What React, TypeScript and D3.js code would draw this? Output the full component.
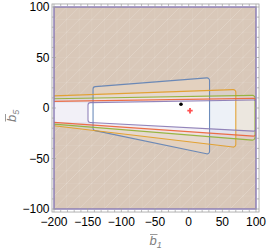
import React from 'react';
import * as d3 from 'd3';

const W = 268;
const H = 250;

// axis ticks
const xTicks = [-200, -150, -100, -50, 0, 50, 100];
const yTicks = [-100, -50, 0, 50, 100];
const xMinor = d3.range(-200, 101, 10);
const yMinor = d3.range(-100, 101, 10);

// allowed region of each constraint, [b1, b5] corners
const blueBox: [number, number][] = [[-142, 21], [31, 30], [31, -46], [-142, -22]];
const blueOpen: [number, number][] = [[-200, 5.3], [-142, 5.3], [-142, 21], [31, 30], [31, -46], [-142, -22], [-142, -14.2], [-200, -14.2]];
const orangeBox: [number, number][] = [[-200, 12], [70, 18.3], [70, -39], [-200, -17.5]];
const greenBox: [number, number][] = [[-200, 9.2], [98.5, 12.5], [98.5, -32], [-200, -16]];
const redBox: [number, number][] = [[-200, 6.6], [100, 9.6], [100, -28], [-200, -14.2]];
const purpleBox: [number, number][] = [[-149.5, 5.3], [100, 8], [100, -23], [-149.5, -14.2]];

// points
const bestFit: [number, number] = [-11.4, 3.7];
const smPoint: [number, number] = [2, -2.7];

const regions = [
  { name: 'blue', color: '#5E81B5', fill: blueOpen, outline: blueBox, closed: true },
  { name: 'orange', color: '#E19C24', fill: orangeBox, outline: orangeBox, closed: false },
  { name: 'green', color: '#8FB032', fill: greenBox, outline: greenBox, closed: false },
  { name: 'red', color: '#EB6235', fill: redBox, outline: redBox, closed: false },
  { name: 'purple', color: '#8778B3', fill: purpleBox, outline: purpleBox, closed: true },
];

const x = d3.scaleLinear().domain([-200, 100]).range([54, 256]);
const y = d3.scaleLinear().domain([-100, 100]).range([209, 7]);
const frameX = [-203, 104.5];
const frameY = [-103, 103];

const toPx = (pts: [number, number][]) => pts.map(([a, b]) => [x(a), y(b)] as [number, number]);

function roundedPath(pts: [number, number][], r: number, closed: boolean) {
  const p = d3.path();
  const n = pts.length;
  if (closed) {
    const a = pts[n - 1], b = pts[0];
    p.moveTo((a[0] + b[0]) / 2, (a[1] + b[1]) / 2);
    for (let i = 0; i < n; i++) {
      const cur = pts[i], next = pts[(i + 1) % n];
      p.arcTo(cur[0], cur[1], next[0], next[1], r);
    }
    p.closePath();
  } else {
    p.moveTo(pts[0][0], pts[0][1]);
    for (let i = 1; i < n - 1; i++) p.arcTo(pts[i][0], pts[i][1], pts[i + 1][0], pts[i + 1][1], r);
    p.lineTo(pts[n - 1][0], pts[n - 1][1]);
  }
  return p.toString();
}

const FONT = '"Liberation Sans", Arial, sans-serif';

export default function App() {
  const x0 = x(-200), x1 = x(100), y0 = y(100), y1 = y(-100);
  const outer = `M${x0},${y0}H${x1}V${y1}H${x0}Z`;
  const fx0 = x(frameX[0]), fx1 = x(frameX[1]), fy0 = y(frameY[1]), fy1 = y(frameY[0]);

  // faint triangulation seams of the filled area
  const cell = 12.6;
  const grid: string[] = [];
  const diag: string[] = [];
  d3.range(x0, x1, cell).forEach(v => grid.push(`M${v},${y0}V${y1}`));
  d3.range(y0, y1, cell).forEach(v => grid.push(`M${x0},${v}H${x1}`));
  d3.range(x0 - (y1 - y0), x1, cell).forEach(v => diag.push(`M${v},${y1}L${v + (y1 - y0)},${y0}`));

  const titleColor = '#808080';

  return (
    <svg width={W} height={H} style={{ position: 'absolute', left: 0, top: 0, background: '#fff' }} fontFamily={FONT}>
      <defs>
        <clipPath id="plot"><rect x={x0} y={y0} width={x1 - x0} height={y1 - y0} /></clipPath>
        <mask id="outside">
          <rect x={0} y={0} width={W} height={H} fill="#fff" />
          {regions.map(r => <path key={r.name} d={roundedPath(toPx(r.fill), 2, true)} fill="#000" />)}
        </mask>
      </defs>

      {/* region fills */}
      {regions.map(r => (
        <path key={r.name} d={outer + roundedPath(toPx(r.fill), 2, true)} fill={r.color} fillOpacity={0.11} fillRule="evenodd" />
      ))}
      <g clipPath="url(#plot)" mask="url(#outside)" fill="none" stroke="#fff" strokeWidth={0.6}>
        <path d={grid.join('')} strokeOpacity={0.14} />
        <path d={diag.join('')} strokeOpacity={0.3} />
      </g>

      {/* region boundaries */}
      <g clipPath="url(#plot)">
        {regions.map(r => (
          <path key={r.name} d={roundedPath(toPx(r.outline), 2.5, r.closed)} fill="none" stroke={r.color} strokeOpacity={0.9} strokeWidth={1.1} strokeLinejoin="round" />
        ))}
      </g>
      <rect x={x0} y={y0} width={x1 - x0} height={y1 - y0} fill="none" stroke="#8778B3" strokeWidth={1.4} />

      {/* points */}
      <circle cx={x(bestFit[0])} cy={y(bestFit[1])} r={1.8} fill="#000" />
      <path d={d3.symbol(d3.symbolCross, 16)()!} transform={`translate(${x(smPoint[0])},${y(smPoint[1])})`} fill="#ff3030" opacity={0.85} />

      {/* frame */}
      <rect x={fx0} y={fy0} width={fx1 - fx0} height={fy1 - fy0} fill="none" stroke="#a0a0a0" strokeWidth={0.8} />
      <g stroke="#a0a0a0" strokeWidth={0.7}>
        {xMinor.map(v => {
          const len = xTicks.includes(v) ? 4 : 2.2;
          return (
            <g key={'x' + v}>
              <line x1={x(v)} x2={x(v)} y1={fy1} y2={fy1 - len} />
              <line x1={x(v)} x2={x(v)} y1={fy0} y2={fy0 + len} />
            </g>
          );
        })}
        {yMinor.map(v => {
          const len = yTicks.includes(v) ? 4 : 2.2;
          return (
            <g key={'y' + v}>
              <line x1={fx0} x2={fx0 + len} y1={y(v)} y2={y(v)} />
              <line x1={fx1} x2={fx1 - len} y1={y(v)} y2={y(v)} />
            </g>
          );
        })}
      </g>
      {xTicks.map(v => (
        <text key={'xl' + v} x={x(v)} y={226} textAnchor="middle" fontSize={12} fill="#000">
          {v < 0 ? '\u2212' + Math.abs(v) : String(v)}
        </text>
      ))}
      {yTicks.map(v => (
        <text key={'yl' + v} x={49.5} y={y(v)} dy="0.36em" textAnchor="end" fontSize={12} fill="#000">
          {v < 0 ? '\u2212' + Math.abs(v) : String(v)}
        </text>
      ))}

      {/* axis titles */}
      <g transform={`translate(${(fx0 + fx1) / 2 - 6},245)`} fill={titleColor}>
        <text fontSize={13} fontStyle="italic">b<tspan fontSize={9} dy={3}>1</tspan></text>
        <line x1={0.5} x2={8} y1={-10.5} y2={-10.5} stroke={titleColor} strokeWidth={0.8} />
      </g>
      <g transform={`translate(16,${(fy0 + fy1) / 2 + 14}) rotate(-90)`} fill={titleColor}>
        <text fontSize={13} fontStyle="italic">b<tspan fontSize={9} dy={3}>5</tspan></text>
        <line x1={0.5} x2={8} y1={-10.5} y2={-10.5} stroke={titleColor} strokeWidth={0.8} />
      </g>
    </svg>
  );
}
